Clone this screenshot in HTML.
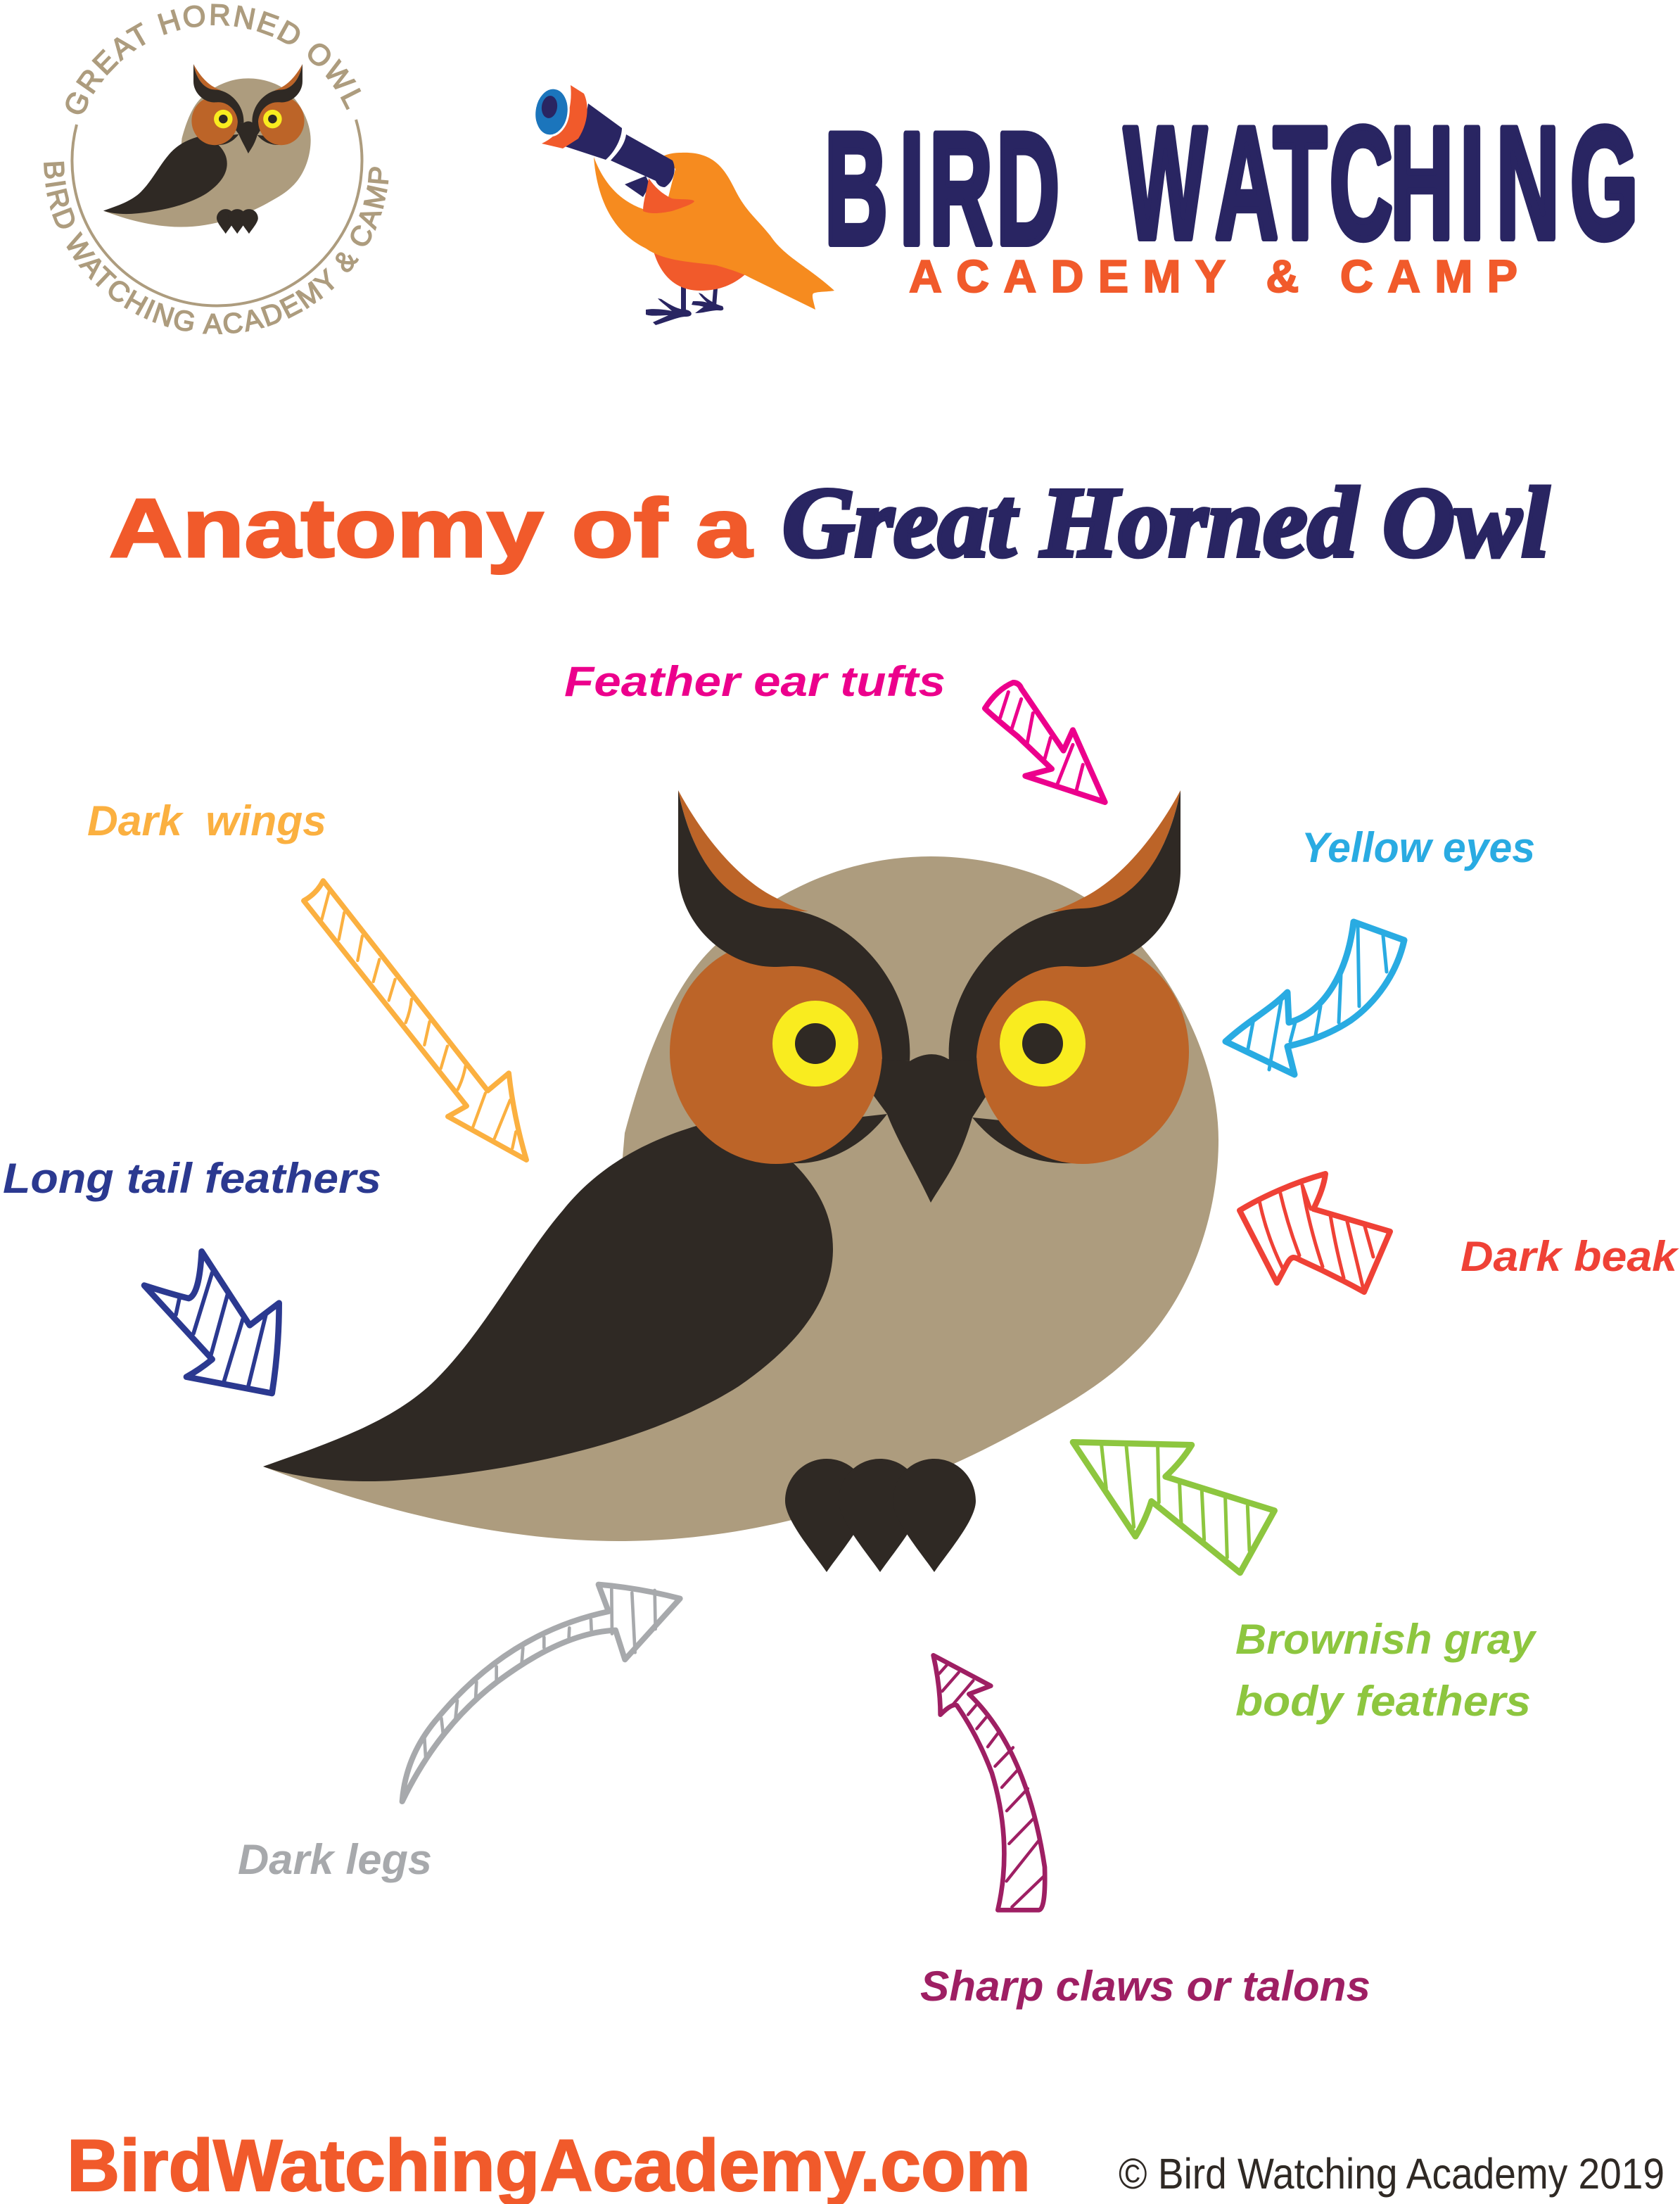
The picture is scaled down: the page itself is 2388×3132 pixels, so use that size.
<!DOCTYPE html>
<html lang="en"><head><meta charset="utf-8"><title>Anatomy of a Great Horned Owl</title>
<style>
html,body{margin:0;padding:0;background:#fff;width:2388px;height:3132px;overflow:hidden}
svg{display:block}
text{font-family:"Liberation Sans",sans-serif}
.lab{font-style:italic;font-weight:700;font-size:60px;white-space:pre}
.a{fill:none;stroke-linejoin:round;stroke-linecap:round}
</style></head><body>
<svg xmlns="http://www.w3.org/2000/svg" width="2388" height="3132" viewBox="0 0 2388 3132">
<defs>
<g id="owl">
<path fill="#AD9C7E" d="M374 2084C520 2140 700 2190 880 2190C1100 2190 1300 2115 1450 2033C1520 1995 1570 1965 1610 1925C1690 1850 1732 1730 1732 1620C1732 1500 1660 1380 1600 1320C1530 1250 1420 1217 1323 1217C1200 1217 1090 1270 1010 1350C960 1400 920 1490 888 1610L884 1656L1000 1900L600 2060Z"/>
<path fill="#2F2924" d="M374 2084C470 2050 560 2020 620 1960C690 1890 740 1790 800 1720C840 1670 900 1625 1000 1597L1100 1620L1128 1653C1165 1690 1184 1730 1184 1775C1184 1850 1130 1915 1050 1970C940 2040 760 2090 560 2104C490 2108 420 2100 374 2084Z"/>
<path fill="#2F2924" d="M1293 1508Q1323 1490 1348 1505L1450 1500L1400 1560L1382 1588C1365 1650 1340 1680 1323 1709C1300 1660 1275 1620 1261 1583L1200 1500Z"/>
<path fill="#2F2924" d="M1261 1583C1230 1625 1180 1655 1128 1653L1110 1600Z"/>
<path fill="#2F2924" d="M1382 1588C1420 1635 1470 1655 1526 1653L1500 1600Z"/>
<g id="half">
<ellipse cx="1103" cy="1495" rx="151" ry="159" fill="#BC6428"/>
<path fill="#BC6428" d="M964 1123C1000 1190 1050 1250 1103 1276C1120 1285 1135 1292 1149 1295L1106 1295C1040 1291 985 1230 964 1123Z"/>
<path fill="#2F2924" d="M964 1123L964 1237C964 1310 1030 1374 1100 1374C1110 1374 1120 1373 1128 1373C1200 1373 1254 1440 1254 1506L1293 1508C1300 1400 1210 1295 1106 1291C1040 1291 985 1230 964 1123Z"/>
</g>
<use href="#half" transform="translate(2642 0) scale(-1 1)"/>
<circle cx="1159" cy="1483" r="61" fill="#F9EC1F"/><circle cx="1159" cy="1483" r="29" fill="#2F2924"/>
<circle cx="1482" cy="1483" r="61" fill="#F9EC1F"/><circle cx="1482" cy="1483" r="29" fill="#2F2924"/>
<g fill="#2F2924">
<path id="tal" d="M1175 2234C1155 2205 1116 2160 1116 2133C1116 2100 1142 2073 1175 2073C1208 2073 1234 2100 1234 2133C1234 2160 1195 2205 1175 2234Z"/>
<use href="#tal" x="76"/><use href="#tal" x="153"/>
</g>
</g>
<path id="arcTop" d="M116 168A204 204 0 0 1 497 165"/>
<path id="arcBot" d="M63 229A245 245 0 0 0 553 229"/>
</defs>

<use href="#owl"/>
<use href="#owl" transform="translate(65.8 -152.7) scale(.217)"/>

<!-- logo ring -->
<path d="M109 177A206 206 0 1 0 506 170" fill="none" stroke="#AD9C7E" stroke-width="4"/>
<text font-size="42" font-weight="400" letter-spacing="2.7" fill="#AD9C7E" stroke="#AD9C7E" stroke-width="1.6"><textPath href="#arcTop">GREAT HORNED OWL</textPath></text>
<text font-size="40" font-weight="400" letter-spacing="2.6" fill="#AD9C7E" stroke="#AD9C7E" stroke-width="1.6"><textPath href="#arcBot">BIRD WATCHING ACADEMY &amp; CAMP</textPath></text>

<!-- bird -->
<path fill="#292562" d="M968 405L975 405L975 445L968 445Z"/><path fill="#292562" d="M1014 410L1020 410L1018 435L1012 435Z"/>
<path fill="#292562" d="M918 440C930 438 945 440 955 442C948 435 940 430 935 424L940 425C955 435 965 440 975 440C985 442 986 450 975 450C965 450 955 455 932 462L928 458L950 448C940 448 925 450 918 447Z"/>
<path fill="#292562" d="M985 428C993 428 1000 428 1005 430C1000 425 995 420 993 416L998 418C1005 425 1015 432 1027 435C1030 440 1028 442 1020 441C1010 441 1000 445 988 445L1000 436C995 434 988 434 983 433Z"/>
<path fill="#F15A2B" d="M926 345C935 390 960 413 995 413C1030 413 1050 400 1070 380L1000 360Z"/>
<path fill="#F68B1F" d="M844 223C848 280 870 330 918 353C945 372 985 372 1018 377C1035 382 1055 388 1067 395L1159 440C1157 430 1153 420 1156 417C1162 414 1175 415 1186 413C1150 380 1115 365 1095 335C1075 310 1060 300 1045 270C1030 240 1015 215 968 217C955 217 945 220 941 223L960 240L945 300L914 297C880 285 858 260 844 223Z"/>
<path fill="#292562" d="M888 262L918 250L924 263L914 280Z"/>
<path fill="#F15A2B" d="M922 253C920 270 914 285 914 300C925 305 940 303 955 300C970 295 985 290 987 286C985 282 965 284 955 282C940 275 930 265 922 253Z"/>
<path fill="#292562" d="M890 191L956 228C962 240 958 258 945 266C938 266 934 262 932 257L868 228C880 215 888 205 890 191Z"/>
<path fill="#292562" d="M836 147L884 182C884 195 875 215 861 227L803 208C820 195 832 175 836 147Z"/>
<path fill="#F15A2B" d="M811 121L830 133C838 150 836 175 822 197L800 211L770 204C800 190 815 160 811 121Z"/>
<ellipse cx="784" cy="159" rx="24" ry="34" transform="rotate(8 784 159)" fill="#1B75BC" stroke="#fff" stroke-width="3"/>
<ellipse cx="781" cy="152" rx="11" ry="16" transform="rotate(8 781 152)" fill="#292562"/>

<!-- header text -->
<g transform="scale(.55 1)" font-size="226" font-weight="700" fill="#292562" stroke="#292562" stroke-width="10" stroke-linejoin="round">
<text x="2131 2325 2402 2575" y="346">BIRD</text>
<text x="2905 3140 3291 3436 3593 3773 3867 4058" y="338">WATCHING</text>
</g>
<text x="1292" y="415" font-size="65" font-weight="700" fill="#F15A2B" stroke="#F15A2B" stroke-width="2" textLength="865" lengthAdjust="spacing">ACADEMY &amp; CAMP</text>

<!-- title -->
<text x="155" y="791" font-size="118" font-weight="700" fill="#F15A2B" stroke="#F15A2B" stroke-width="3" textLength="914" lengthAdjust="spacingAndGlyphs">Anatomy of a</text>
<text x="1112" y="790" font-size="142" font-weight="700" font-style="italic" fill="#292562" stroke="#292562" stroke-width="6" textLength="1090" lengthAdjust="spacingAndGlyphs" style="font-family:'Liberation Serif',serif">Great Horned Owl</text>

<!-- labels -->
<text class="lab" x="802" y="989" fill="#EC008C" textLength="542" lengthAdjust="spacingAndGlyphs">Feather ear tufts</text>
<text class="lab" x="124" y="1187" fill="#FBB040" textLength="340" lengthAdjust="spacingAndGlyphs">Dark  wings</text>
<text class="lab" x="1850" y="1225" fill="#29ABE2" textLength="332" lengthAdjust="spacingAndGlyphs">Yellow eyes</text>
<text class="lab" x="4" y="1695" fill="#2B3990" textLength="538" lengthAdjust="spacingAndGlyphs">Long tail feathers</text>
<text class="lab" x="2076" y="1806" fill="#EF4136" textLength="308" lengthAdjust="spacingAndGlyphs">Dark beak</text>
<text class="lab" x="1756" y="2350" fill="#8DC63F" textLength="426" lengthAdjust="spacingAndGlyphs">Brownish gray</text>
<text class="lab" x="1756" y="2438" fill="#8DC63F" textLength="420" lengthAdjust="spacingAndGlyphs">body feathers</text>
<text class="lab" x="338" y="2663" fill="#A7A9AC" textLength="276" lengthAdjust="spacingAndGlyphs">Dark legs</text>
<text class="lab" x="1308" y="2843" fill="#9E1F63" textLength="640" lengthAdjust="spacingAndGlyphs">Sharp claws or talons</text>

<!-- footer -->
<text x="95" y="3113" font-size="104" font-weight="700" fill="#F15A2B" stroke="#F15A2B" stroke-width="2" textLength="1370" lengthAdjust="spacingAndGlyphs">BirdWatchingAcademy.com</text>
<text x="1590" y="3110" font-size="61" fill="#2F2924" textLength="776" lengthAdjust="spacingAndGlyphs">© Bird Watching Academy 2019</text>

<!-- gold arrow -->
<g class="a" stroke="#FBB040" transform="translate(400 1200) scale(.3333)">
<path stroke-width="22" d="M95 240Q150 210 178 155L880 1050L970 975Q990 1160 1045 1345L710 1160L790 1115Z"/>
<path stroke-width="13" d="M205 195L172 320M268 290L245 405M345 390L325 495M418 490L392 585M485 575L458 665M555 660Q550 710 530 760M632 755L610 855M708 860L680 955M785 945Q775 1000 752 1045M870 1060L815 1210M975 1090L908 1255M1000 1225L985 1295"/>
</g>
<!-- pink arrow -->
<g class="a" stroke="#EC008C" transform="translate(1380 950) scale(.3333)">
<path stroke-width="24" d="M60 170Q110 90 180 60Q205 60 215 85L395 350L435 262L572 570L232 458L345 428L200 290Q90 200 60 170Z"/>
<path stroke-width="15" d="M160 100L125 210M215 130L175 255M265 190L240 320M340 295L315 385M435 325L370 490M478 410L450 520"/>
</g>
<!-- blue arrow -->
<g class="a" stroke="#29ABE2">
<path stroke-width="9" d="M1924 1310L1996 1336C1985 1385 1955 1425 1920 1450C1890 1470 1860 1480 1830 1487L1840 1527L1742 1480C1775 1450 1805 1435 1830 1410L1832 1453C1880 1440 1915 1385 1924 1310Z"/>
<path stroke-width="5" d="M1930 1315L1932 1430M1966 1330L1971 1381M1906 1385L1903 1453M1877 1430L1870 1471M1841 1453L1834 1480M1822 1417L1804 1520M1781 1453L1774 1490"/>
</g>
<!-- red arrow -->
<g class="a" stroke="#EF4136">
<path stroke-width="8" d="M1762 1720C1795 1700 1840 1680 1884 1668C1882 1685 1875 1702 1867 1718L1976 1750L1939 1836C1910 1820 1880 1805 1849 1791C1840 1786 1836 1784 1830 1795L1815 1823Z"/>
<path stroke-width="5" d="M1790 1706Q1800 1755 1823 1802M1819 1692Q1830 1740 1847 1784M1851 1684Q1860 1740 1880 1800M1851 1684L1863 1718M1891 1727Q1898 1770 1910 1816M1915 1736L1937 1828M1940 1743L1952 1786"/>
</g>
<!-- green arrow -->
<g class="a" stroke="#8DC63F" transform="translate(1500 2020) scale(.3333)">
<path stroke-width="26" d="M75 88L582 100Q540 170 470 235L935 380L788 645L410 340Q385 420 342 490Z"/>
<path stroke-width="15" d="M197 100L217 285M303 105L335 450M437 110L442 345M530 265L537 430M625 295L635 505M725 325L733 580M820 360L828 550"/>
</g>
<!-- navy arrow -->
<g class="a" stroke="#2B3990" transform="translate(180 1750) scale(.3333)">
<path stroke-width="26" d="M75 230Q200 270 265 285Q310 270 320 85L525 400L650 305Q650 500 620 690L255 620Q310 590 365 545Z"/>
<path stroke-width="17" d="M225 285L210 355M365 175L285 435M430 270L360 525M495 375L415 640M595 350L520 655"/>
</g>
<!-- gray arrow -->
<g class="a" stroke="#A7A9AC" transform="translate(540 2220) scale(.3333)">
<path stroke-width="24" d="M95 1020Q110 820 250 660Q550 300 975 210L932 95Q1110 110 1280 155L1045 415L1005 290Q780 300 500 510Q250 700 95 1020Z"/>
<path stroke-width="14" d="M190 750L195 830M262 665L270 735M330 590L322 670M412 510L408 585M497 445L497 510M610 365L605 430M700 320L700 365M808 280L806 320M900 245L902 290M988 115L990 305M1075 130L1088 385M1172 120L1175 285"/>
</g>
<!-- maroon arrow -->
<g class="a" stroke="#9E1F63" transform="translate(1300 2320) scale(.3333)">
<path stroke-width="20" d="M80 97L325 227L232 262Q480 500 555 1000Q560 1180 530 1183L355 1183Q420 900 330 600Q270 440 180 310Q160 300 110 350Q110 230 80 97Z"/>
<path stroke-width="13" d="M145 130L105 175M188 170L118 250M250 205L165 305M262 310L228 350M305 362L265 410M355 430L312 487M420 490L343 570M445 580L372 660M483 665L393 760M515 785L403 900M535 880L392 1060M550 1040L415 1170"/>
</g>
</svg>
</body></html>
